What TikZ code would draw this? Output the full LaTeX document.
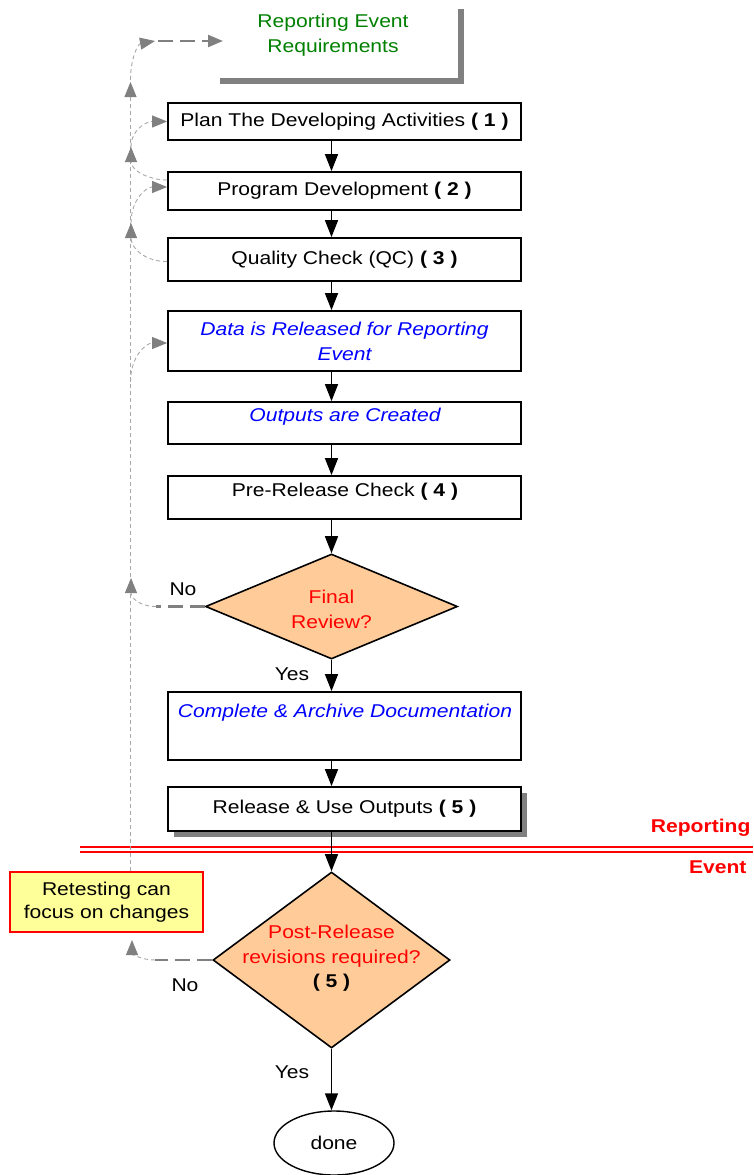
\documentclass[tikz,border=0pt]{standalone}
\usepackage{fontspec}
\setmainfont{Liberation Sans}[FakeStretch=1.14]
\usetikzlibrary{shapes.geometric,arrows.meta,shadows}

\definecolor{reqgreen}{RGB}{0,128,0}
\definecolor{itblue}{RGB}{0,0,255}
\definecolor{decfill}{RGB}{255,204,153}
\definecolor{notefill}{RGB}{255,255,153}
\definecolor{shadowgray}{RGB}{128,128,128}
\definecolor{loopgray}{RGB}{128,128,128}
\definecolor{thingray}{RGB}{168,168,168}

\tikzset{
  stepbox/.style={draw=black, line width=1.8pt, fill=white, minimum width=353pt,
    inner sep=0pt, align=center},
  decision/.style={diamond, draw=black, line width=1.6pt, fill=decfill, inner sep=0pt},
  flow/.style={line width=1.5pt, -{Triangle[length=17pt,width=13pt]}},
  loopthin/.style={draw=thingray, line width=0.9pt, dash pattern=on 4pt off 3pt},
  loopthick/.style={draw=loopgray, line width=2.4pt, dash pattern=on 15pt off 7pt},
  graytip/.style={-{Triangle[length=15pt,width=12pt,color=loopgray]}},
  boxshadow/.style={drop shadow={shadow xshift=6pt, shadow yshift=-6pt,
    fill=shadowgray, opacity=1}},
}

\begin{document}
\begin{tikzpicture}[x=1pt, y=-1pt, font=\fontsize{18.5}{25}\selectfont]
\useasboundingbox (0,0) rectangle (753,1175);

% requirements box (borderless, with shadow)
\node[fill=white, minimum width=244pt, minimum height=75pt, boxshadow] (req) at (336,40.5) {};
\node[text=reqgreen, align=center] (reqtext) at (333,35) {Reporting Event\\Requirements};

% process steps
\node[stepbox, minimum height=37pt] (plan) at (344.5,121.5) {Plan The Developing Activities \textbf{( 1 )}};
\node[stepbox, minimum height=38pt] (prog) at (344.5,191) {Program Development \textbf{( 2 )}};
\node[stepbox, minimum height=43pt] (qc) at (344.5,259.5) {Quality Check (QC) \textbf{( 3 )}};
\node[stepbox, minimum height=60pt, text=itblue, font=\fontsize{18.5}{25}\selectfont\itshape] (data) at (344.5,341) {Data is Released for Reporting\\Event};
\node[stepbox, minimum height=42pt] (outs) at (344.5,423) {};
\node[text=itblue, font=\fontsize{18.5}{25}\selectfont\itshape] (outstext) at (345,417) {Outputs are Created};
\node[stepbox, minimum height=43pt] (pre) at (344.5,497.5) {};
\node (pretext) at (345,492) {Pre-Release Check \textbf{( 4 )}};

\node[decision, minimum width=252pt, minimum height=105pt] (final) at (331.5,606.5) {};
\node[text=red, align=center] (finaltext) at (331.5,609) {Final\\Review?};

\node[stepbox, minimum height=68pt] (comp) at (344.5,726) {};
\node[text=itblue, font=\fontsize{18.5}{25}\selectfont\itshape] (comptext) at (345,713) {Complete \& Archive Documentation};

\node[stepbox, minimum height=44pt, boxshadow] (rel) at (344.5,809) {Release \& Use Outputs \textbf{( 5 )}};

% reporting event boundary
\draw[red, line width=2pt] (80,846.5) -- (753,846.5);
\draw[red, line width=2pt] (80,851.5) -- (753,851.5);
\node[anchor=east, text=red, font=\fontsize{18.5}{25}\selectfont\bfseries] (rptlabel) at (754,828) {Reporting};
\node[anchor=east, text=red, font=\fontsize{18.5}{25}\selectfont\bfseries] (evtlabel) at (750,867) {Event};

\node[decision, minimum width=237pt, minimum height=176pt] (post) at (331.5,960) {};
\node[text=red, align=center] (posttext) at (331.5,946) {Post-Release\\revisions required?};
\node (postnum) at (331.5,983) {\textbf{( 5 )}};

\node[ellipse, draw=black, line width=1.4pt, minimum width=120pt, minimum height=64pt] (done) at (334,1143) {done};

% note
\node[draw=red, line width=1.6pt, fill=notefill, minimum width=193pt, minimum height=60pt,
  align=center, font=\fontsize{18.5}{23}\selectfont] (retest) at (106.5,902) {Retesting can\\focus on changes};

% branch labels
\node (nofinal) at (183,589) {No};
\node (yesfinal) at (292,674) {Yes};
\node (nopost) at (185,985) {No};
\node (yespost) at (292,1072) {Yes};

% main flow
\coordinate (ax) at (331.5,0);
\draw[flow] (plan.south -| ax) -- (prog.north -| ax);
\draw[flow] (prog.south -| ax) -- (qc.north -| ax);
\draw[flow] (qc.south -| ax) -- (data.north -| ax);
\draw[flow] (data.south -| ax) -- (outs.north -| ax);
\draw[flow] (outs.south -| ax) -- (pre.north -| ax);
\draw[flow] (pre.south -| ax) -- (final.north);
\draw[flow] (final.south) -- (comp.north -| ax);
\draw[flow] (comp.south -| ax) -- (rel.north -| ax);
\draw[flow] (rel.south -| ax) -- (post.north);
\draw[flow] (post.south) -- (done.north -| ax);

% rework loop spine
\coordinate (spinex) at (130.5,0);
\coordinate (spinetop) at (130.5,82);
\draw[loopthin, graytip] (retest.north -| spinex) -- (spinetop);
\coordinate (reqbend) at (155,41);
\coordinate (reqin) at (223,41);
\draw[loopthin, graytip] (130.5,80) .. controls (130.5,58) and (138,44) .. (reqbend);
\draw[loopthick, graytip] (158,41) -- (reqin);

% final review rejected
\coordinate (finalbend) at (156,606.5);
\draw[loopthick] (final.west) -- (finalbend);
\draw[loopthin, graytip] (finalbend) .. controls (140,606.5) and (131,598) .. (131,578);

% post-release revisions
\coordinate (postbend) at (155,960);
\coordinate (retestin) at (132,940);
\draw[loopthick] (post.west) -- (postbend);
\draw[loopthin, graytip] (postbend) .. controls (140,960) and (132,953) .. (retestin);

% re-entry into data release
\draw[loopthin, graytip] (130.5,382) .. controls (130.5,356) and (146,343) .. ([yshift=-2pt]data.west);

% quality check back to development
\coordinate (qcup) at (131,223);
\draw[loopthin, graytip] ([yshift=-2pt]qc.west) .. controls (148,262) and (131,250) .. (qcup);
\draw[loopthin, graytip] (qcup) .. controls (131,200) and (146,187) .. ([yshift=4pt]prog.west);

% development back to planning
\coordinate (progup) at (131,147);
\draw[loopthin, graytip] ([yshift=11pt]prog.west) .. controls (148,180) and (131,170) .. (progup);
\draw[loopthin, graytip] (progup) .. controls (131,130) and (146,121.5) .. (plan.west);
\end{tikzpicture}
\end{document}
